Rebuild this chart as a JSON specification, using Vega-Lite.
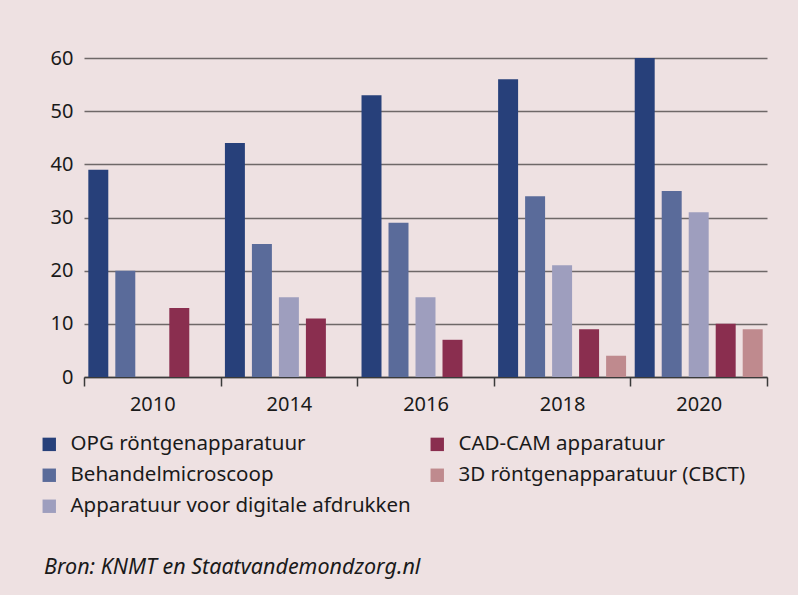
{
  "$schema": "https://vega.github.io/schema/vega-lite/v6.json",
  "autosize": {"type": "none"},
  "padding": {"left": 84, "top": 58, "right": 31, "bottom": 218},
  "width": 683,
  "height": 319,
  "background": "#eee1e2",
  "config": {
    "view": {"stroke": null},
    "font": "Noto Sans"
  },
  "title": {
    "text": "Bron: KNMT en Staatvandemondzorg.nl",
    "orient": "bottom",
    "anchor": "start",
    "frame": "group",
    "fontSize": 21.5,
    "fontStyle": "italic",
    "fontWeight": "normal",
    "color": "#1a1a1a",
    "dx": -40,
    "offset": 40
  },
  "data": {
    "values": [
      {"jaar": "2010", "soort": "OPG röntgenapparatuur", "aantal": 39},
      {"jaar": "2010", "soort": "Behandelmicroscoop", "aantal": 20},
      {"jaar": "2010", "soort": "CAD-CAM apparatuur", "aantal": 13},
      {"jaar": "2014", "soort": "OPG röntgenapparatuur", "aantal": 44},
      {"jaar": "2014", "soort": "Behandelmicroscoop", "aantal": 25},
      {"jaar": "2014", "soort": "Apparatuur voor digitale afdrukken", "aantal": 15},
      {"jaar": "2014", "soort": "CAD-CAM apparatuur", "aantal": 11},
      {"jaar": "2016", "soort": "OPG röntgenapparatuur", "aantal": 53},
      {"jaar": "2016", "soort": "Behandelmicroscoop", "aantal": 29},
      {"jaar": "2016", "soort": "Apparatuur voor digitale afdrukken", "aantal": 15},
      {"jaar": "2016", "soort": "CAD-CAM apparatuur", "aantal": 7},
      {"jaar": "2018", "soort": "OPG röntgenapparatuur", "aantal": 56},
      {"jaar": "2018", "soort": "Behandelmicroscoop", "aantal": 34},
      {"jaar": "2018", "soort": "Apparatuur voor digitale afdrukken", "aantal": 21},
      {"jaar": "2018", "soort": "CAD-CAM apparatuur", "aantal": 9},
      {"jaar": "2018", "soort": "3D röntgenapparatuur (CBCT)", "aantal": 4},
      {"jaar": "2020", "soort": "OPG röntgenapparatuur", "aantal": 60},
      {"jaar": "2020", "soort": "Behandelmicroscoop", "aantal": 35},
      {"jaar": "2020", "soort": "Apparatuur voor digitale afdrukken", "aantal": 31},
      {"jaar": "2020", "soort": "CAD-CAM apparatuur", "aantal": 10},
      {"jaar": "2020", "soort": "3D röntgenapparatuur (CBCT)", "aantal": 9}
    ]
  },
  "mark": {"type": "bar"},
  "encoding": {
    "x": {
      "field": "jaar",
      "type": "nominal",
      "scale": {"paddingInner": 0, "paddingOuter": 0},
      "axis": {
        "title": null,
        "labelAngle": 0,
        "labelFontSize": 20,
        "labelColor": "#1a1a1a",
        "labelPadding": 8,
        "tickBand": "extent",
        "tickSize": 9,
        "tickColor": "#3a3a3a",
        "tickWidth": 1.5,
        "domainColor": "#3a3a3a",
        "domainWidth": 1.5
      }
    },
    "xOffset": {
      "field": "soort",
      "type": "nominal",
      "sort": ["OPG röntgenapparatuur", "Behandelmicroscoop", "Apparatuur voor digitale afdrukken", "CAD-CAM apparatuur", "3D röntgenapparatuur (CBCT)"],
      "scale": {
        "domain": ["OPG röntgenapparatuur", "Behandelmicroscoop", "Apparatuur voor digitale afdrukken", "CAD-CAM apparatuur", "3D röntgenapparatuur (CBCT)"],
        "paddingInner": 0.26,
        "paddingOuter": 0.16
      }
    },
    "y": {
      "field": "aantal",
      "type": "quantitative",
      "scale": {"domain": [0, 60]},
      "axis": {
        "title": null,
        "values": [0, 10, 20, 30, 40, 50, 60],
        "labelFontSize": 20,
        "labelColor": "#1a1a1a",
        "labelPadding": 11,
        "ticks": false,
        "domain": false,
        "gridColor": "#6e6868",
        "gridWidth": 1.5
      }
    },
    "color": {
      "field": "soort",
      "type": "nominal",
      "scale": {
        "domain": ["OPG röntgenapparatuur", "Behandelmicroscoop", "Apparatuur voor digitale afdrukken", "CAD-CAM apparatuur", "3D röntgenapparatuur (CBCT)"],
        "range": ["#27407a", "#5a6b9a", "#9e9ebe", "#8a2e4f", "#bf8a8e"]
      },
      "legend": {
        "title": null,
        "orient": "none",
        "legendX": -45,
        "legendY": 376,
        "columns": 2,
        "columnPadding": 16,
        "rowPadding": 10,
        "symbolType": "square",
        "symbolSize": 180,
        "symbolStrokeWidth": 0,
        "symbolOpacity": 1,
        "labelFontSize": 20.5,
        "labelColor": "#1a1a1a",
        "labelOffset": 11,
        "labelLimit": 400
      }
    }
  }
}
